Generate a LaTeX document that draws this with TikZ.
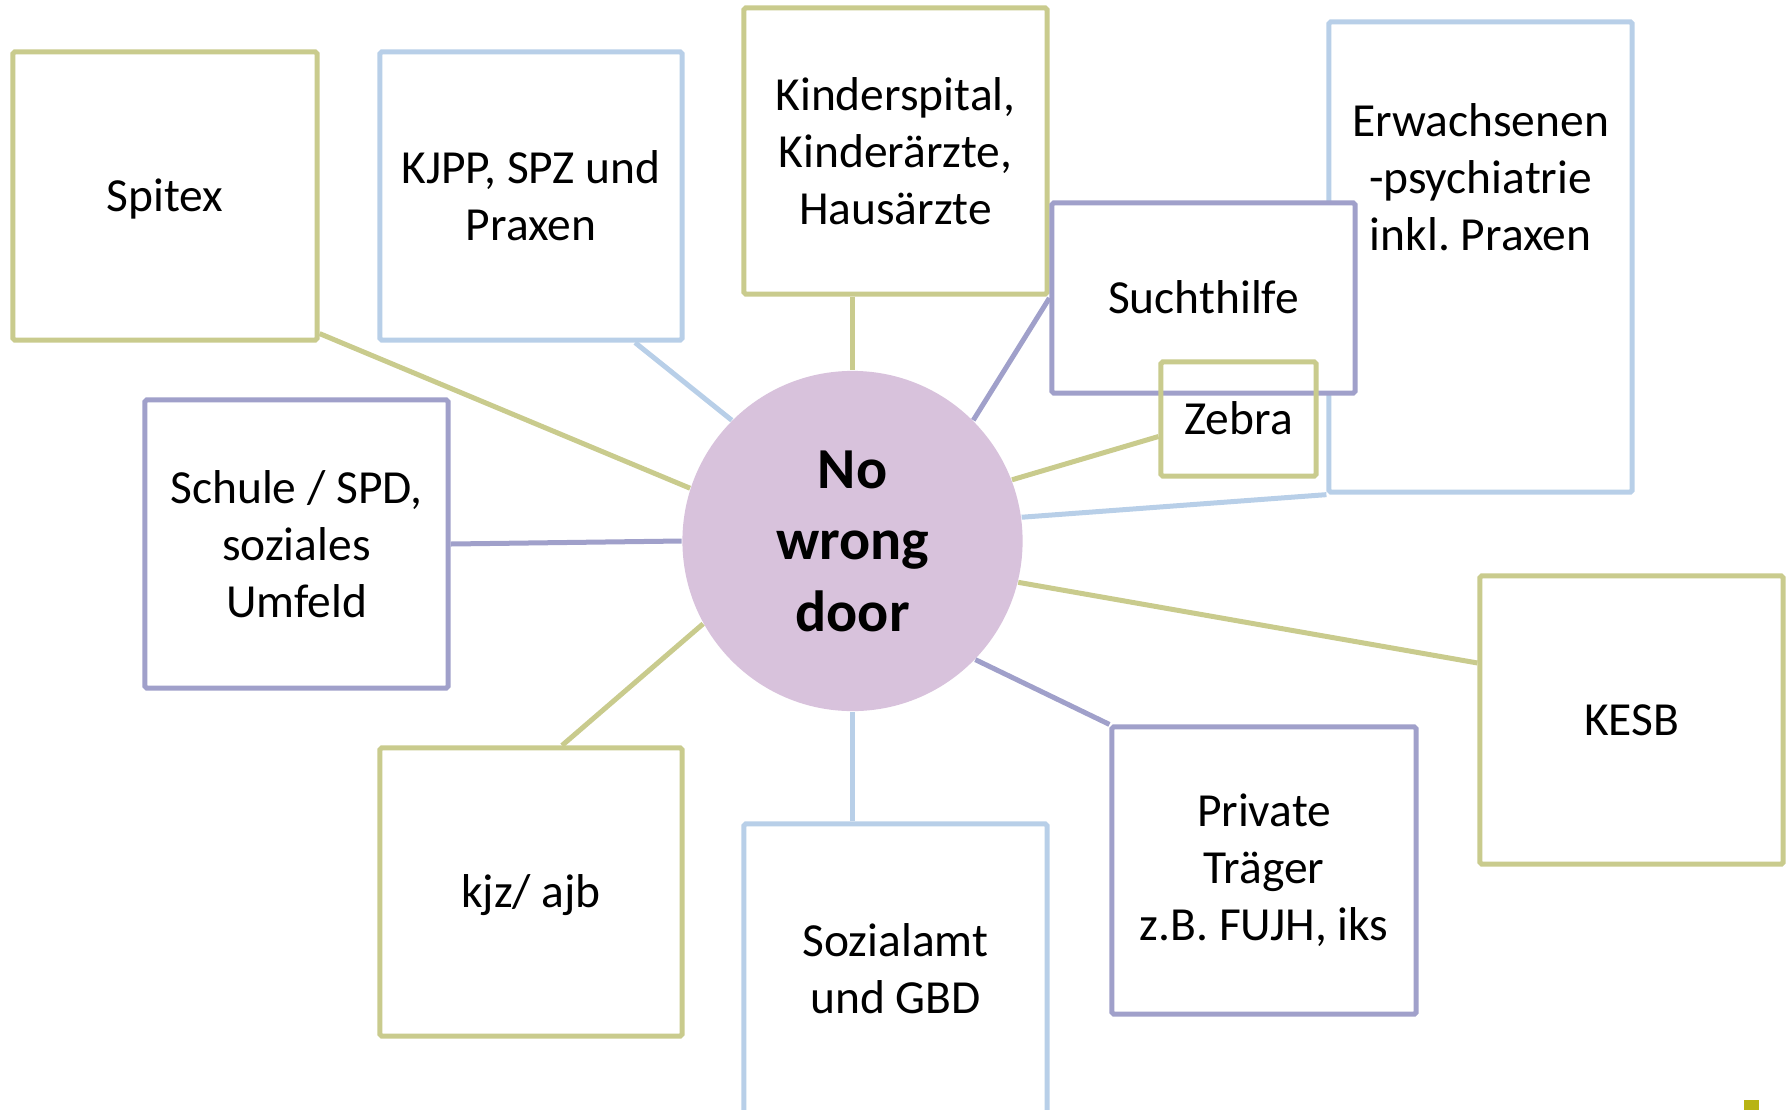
\documentclass[tikz,border=0pt]{standalone}
\usepackage{fontspec}
\setmainfont{Carlito}
\definecolor{grn}{RGB}{201,203,141}
\definecolor{pur}{RGB}{160,160,202}
\definecolor{blu}{RGB}{184,207,232}
\definecolor{cfill}{RGB}{216,194,220}
\definecolor{sq}{RGB}{184,180,20}
\begin{document}
\begin{tikzpicture}[x=0.01cm,y=-0.01cm,
  box/.style={draw, line width=0.05cm, rounded corners=0.5pt, fill=white, inner sep=0pt,
    align=center, font=\fontsize{13.5}{16.2}\selectfont},
  one/.style={text height=11.5pt, text depth=2.7pt},
  gbox/.style={box, draw=grn},
  pbox/.style={box, draw=pur},
  bbox/.style={box, draw=blu},
  link/.style={line width=0.05cm},
  lbl/.style={align=center, inner sep=0pt, font=\fontsize{13.5}{16.2}\selectfont}]
\useasboundingbox (0,0) rectangle (1789,1109);
\clip (0,0) rectangle (1789,1109);
% boxes (sizes in px)
\node[gbox, one, minimum width=3.04cm, minimum height=2.88cm] (spitex) at (165,196) {Spitex};
\node[bbox, minimum width=3.02cm, minimum height=2.88cm] (kjpp) at (531,196) {KJPP, SPZ und\\Praxen};
\node[gbox, minimum width=3.03cm, minimum height=2.86cm] (kinder) at (895.5,151) {Kinderspital,\\Kinderärzte,\\Hausärzte};
\node[bbox, minimum width=3.03cm, minimum height=4.70cm] (erw) at (1480.5,257) {};
\node[lbl] (erwtext) at (1480.5,177) {Erwachsenen\\-psychiatrie\\inkl.\ Praxen};
\node[pbox, one, minimum width=3.03cm, minimum height=1.90cm] (sucht) at (1203.5,298) {Suchthilfe};
\node[box, one, draw=grn, fill=none, minimum width=1.55cm, minimum height=1.14cm] (zebra) at (1238.5,419) {Zebra};
\node[pbox, minimum width=3.03cm, minimum height=2.88cm] (schule) at (296.5,544) {Schule / SPD,\\soziales\\Umfeld};
\node[gbox, one, minimum width=3.03cm, minimum height=2.88cm] (kesb) at (1631.5,720) {KESB};
\node[pbox, minimum width=3.04cm, minimum height=2.87cm] (priv) at (1264,870.5) {Private\\Träger\\z.B.\ FUJH, iks};
\node[bbox, minimum width=3.03cm, minimum height=2.90cm] (soz) at (895.5,969) {Sozialamt\\und GBD};
\node[gbox, one, minimum width=3.02cm, minimum height=2.88cm] (kjz) at (531,892) {kjz/ ajb};
% centre
\node[circle, fill=cfill, minimum size=3.40cm, inner sep=0pt, align=center,
  font=\fontsize{16.5}{20.3}\selectfont\bfseries] (c) at (852.5,541) {No\\wrong\\door};
% connectors
\draw[link, draw=grn] ([yshift=0.09cm]spitex.south east) -- (c.162);
\draw[link, draw=blu] ([xshift=1.04cm]kjpp.south) -- (c.135);
\draw[link, draw=grn] (c.north |- kinder.south) -- (c.north);
\draw[link, draw=pur] (sucht.west) -- (c.45);
\draw[link, draw=grn] ([yshift=-0.175cm]zebra.west) -- (c.21);
\draw[link, draw=blu] (erw.south west) -- (c.8);
\draw[link, draw=grn] ([yshift=0.57cm]kesb.west) -- (c.-14.5);
\draw[link, draw=pur] (priv.north west) -- (c.-44.5);
\draw[link, draw=blu] (c.south |- soz.north) -- (c.south);
\draw[link, draw=grn] ([xshift=0.31cm]kjz.north) -- (c.-151.6);
\draw[link, draw=pur] (schule.east) -- (c.west);
% small square
\node[fill=sq, inner sep=0pt, minimum width=0.15cm, minimum height=0.14cm, anchor=north west] (sqr) at (1743,1099) {};
\end{tikzpicture}
\end{document}
